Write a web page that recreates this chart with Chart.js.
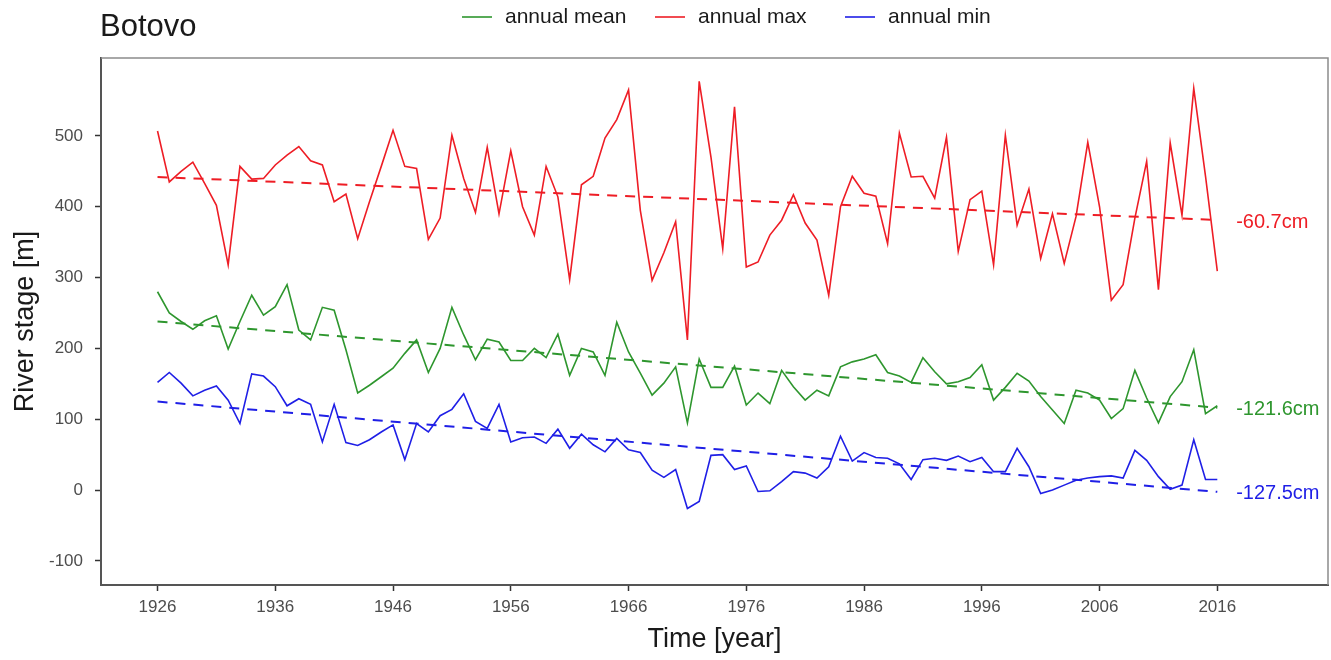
<!DOCTYPE html>
<html>
<head>
<meta charset="utf-8">
<title>Botovo – river stage</title>
<script src="https://cdn.jsdelivr.net/npm/chart.js@4.4.1/dist/chart.umd.min.js"></script>
<style>
  html, body { margin: 0; padding: 0; background: #ffffff; }
  #wrap { width: 1331px; height: 660px; }
</style>
</head>
<body>
<div id="wrap"><canvas id="stageChart" width="1331" height="660"></canvas></div>
<script>
// ═══════════════════════════════════════════════════════
// BOTOVO – annual river stage with linear trends
// ═══════════════════════════════════════════════════════

const years = [
  1926, 1927, 1928, 1929, 1930, 1931, 1932, 1933, 1934, 1935,
  1936, 1937, 1938, 1939, 1940, 1941, 1942, 1943, 1944, 1945,
  1946, 1947, 1948, 1949, 1950, 1951, 1952, 1953, 1954, 1955,
  1956, 1957, 1958, 1959, 1960, 1961, 1962, 1963, 1964, 1965,
  1966, 1967, 1968, 1969, 1970, 1971, 1972, 1973, 1974, 1975,
  1976, 1977, 1978, 1979, 1980, 1981, 1982, 1983, 1984, 1985,
  1986, 1987, 1988, 1989, 1990, 1991, 1992, 1993, 1994, 1995,
  1996, 1997, 1998, 1999, 2000, 2001, 2002, 2003, 2004, 2005,
  2006, 2007, 2008, 2009, 2010, 2011, 2012, 2013, 2014, 2015,
  2016
];

const annualMean = [
  280, 250, 238, 227, 239, 246, 199, 238, 275, 247,
  259, 290, 226, 212, 258, 254, 198, 137, 148, 160,
  172, 193, 212, 166, 200, 258, 219, 184, 213, 209,
  183, 183, 200, 187, 220, 162, 200, 195, 162, 237,
  195, 165, 134, 151, 174,  95, 185, 145, 145, 175,
  120, 137, 122, 169, 146, 127, 141, 133, 174, 181,
  185, 191, 166, 161, 152, 187, 167, 150, 153, 159,
  177, 127, 145, 165, 154, 132, 113,  94, 141, 137,
  127, 101, 115, 169, 130,  95, 132, 153, 198, 108,
  119
];

const annualMax = [
  507, 435, 450, 463, 433, 402, 318, 457, 439, 440,
  459, 473, 485, 465, 459, 407, 418, 355, 407, 457,
  508, 457, 454, 354, 384, 501, 440, 392, 484, 390,
  479, 400, 360, 457, 414, 297, 431, 443, 497, 523,
  565, 395, 296, 335, 379, 212, 577, 470, 341, 541,
  315, 322, 360, 381, 417, 377, 353, 275, 400, 443,
  419, 415, 348, 504, 442, 443, 412, 498, 337, 410,
  422, 318, 501, 374, 425, 327, 390, 320, 386, 491,
  400, 268, 290, 384, 464, 283, 490, 388, 567, 443,
  309
];

const annualMin = [
  152, 166, 151, 133, 141, 147, 127,  94, 164, 161,
  146, 119, 129, 121,  68, 121,  67,  63,  71,  82,
   92,  43,  94,  82, 105, 114, 136,  97,  87, 121,
   68,  74,  75,  66,  86,  59,  79,  64,  54,  73,
   57,  53,  28,  18,  29, -26, -16,  49,  50,  29,
   34,  -2,  -1,  12,  26,  24,  17,  33,  76,  41,
   53,  46,  45,  37,  15,  43,  45,  42,  48,  40,
   46,  26,  26,  59,  33,  -5,   0,   7,  14,  17,
   19,  20,  17,  56,  42,  19,   1,   7,  71,  15,
   15
];

// linear trend end points (first year, last year)
const trendYears = [1926, 2016];
const meanTrend = [238.0, 116.4];
const maxTrend = [442.0, 381.3];
const minTrend = [125.0, -2.5];

const trendLabels = { mean: '-121.6cm', max: '-60.7cm', min: '-127.5cm' };
const labelYear = 2017.6;

const xTicks = [1926, 1936, 1946, 1956, 1966, 1976, 1986, 1996, 2006, 2016];
const yTicks = [-100, 0, 100, 200, 300, 400, 500];

// ─────────────────────────────────────────────────────
// STYLE
// ─────────────────────────────────────────────────────
const FONT = "'Liberation Sans', Arial, sans-serif";
const GREEN = '#2e962e';
const RED = '#ee1d25';
const BLUE = '#1f1fe6';
const TICK_TEXT = '#4d4d4d';

const toPoints = (xs, vals) => vals.map((v, i) => ({ x: xs[i], y: v }));

function seriesLine(label, vals, color) {
  return {
    label: label,
    data: toPoints(years, vals),
    borderColor: color,
    backgroundColor: color,
    borderWidth: 1.6,
    pointRadius: 0,
    tension: 0,
    fill: false
  };
}

function trendLine(label, vals, color) {
  return {
    label: label,
    data: toPoints(trendYears, vals),
    borderColor: color,
    borderWidth: 2,
    borderDash: [10, 8],
    pointRadius: 0,
    tension: 0,
    fill: false
  };
}

// ─────────────────────────────────────────────────────
// TITLE, LEGEND, PANEL BOX, TREND LABELS
// ─────────────────────────────────────────────────────
const decorPlugin = {
  id: 'decor',
  afterDraw(chart) {
    const { ctx, chartArea: a, scales: { x, y } } = chart;
    ctx.save();

    // panel box (top and right sides)
    ctx.strokeStyle = '#8c8c8c';
    ctx.lineWidth = 1.5;
    ctx.beginPath();
    ctx.moveTo(a.left, a.top);
    ctx.lineTo(a.right, a.top);
    ctx.lineTo(a.right, a.bottom);
    ctx.stroke();

    // trend labels
    ctx.font = '20px ' + FONT;
    ctx.textAlign = 'left';
    ctx.textBaseline = 'middle';
    const lx = x.getPixelForValue(labelYear);
    ctx.fillStyle = RED;
    ctx.fillText(trendLabels.max, lx, y.getPixelForValue(maxTrend[1]) + 2);
    ctx.fillStyle = GREEN;
    ctx.fillText(trendLabels.mean, lx, y.getPixelForValue(meanTrend[1]) + 2);
    ctx.fillStyle = BLUE;
    ctx.fillText(trendLabels.min, lx, y.getPixelForValue(minTrend[1]) + 2);

    // plot title
    ctx.fillStyle = '#1a1a1a';
    ctx.font = '31px ' + FONT;
    ctx.textBaseline = 'alphabetic';
    ctx.fillText('Botovo', 100, 36);

    // legend (key start positions follow the reference layout)
    const items = [
      { text: 'annual mean', color: GREEN, at: 462 },
      { text: 'annual max', color: RED, at: 655 },
      { text: 'annual min', color: BLUE, at: 845 }
    ];
    ctx.font = '21px ' + FONT;
    ctx.textBaseline = 'middle';
    const ly = 17;
    items.forEach(it => {
      ctx.strokeStyle = it.color;
      ctx.lineWidth = 1.6;
      ctx.beginPath();
      ctx.moveTo(it.at, ly);
      ctx.lineTo(it.at + 30, ly);
      ctx.stroke();
      ctx.fillStyle = '#1a1a1a';
      ctx.fillText(it.text, it.at + 43, ly);
    });

    ctx.restore();
  }
};

// ─────────────────────────────────────────────────────
// CHART
// ─────────────────────────────────────────────────────
const ctx = document.getElementById('stageChart').getContext('2d');
new Chart(ctx, {
  type: 'line',
  data: {
    datasets: [
      seriesLine('annual mean', annualMean, GREEN),
      seriesLine('annual max', annualMax, RED),
      seriesLine('annual min', annualMin, BLUE),
      trendLine('mean trend', meanTrend, GREEN),
      trendLine('max trend', maxTrend, RED),
      trendLine('min trend', minTrend, BLUE)
    ]
  },
  options: {
    responsive: false,
    animation: false,
    layout: { padding: { top: 58, right: 3, left: 0, bottom: 0 } },
    scales: {
      x: {
        type: 'linear',
        min: 1921.2,
        max: 2025.4,
        afterBuildTicks: s => { s.ticks = xTicks.map(v => ({ value: v })); },
        afterFit: s => { s.height = 75; },
        ticks: {
          color: TICK_TEXT,
          font: { family: FONT, size: 17 },
          padding: 6,
          autoSkip: false,
          maxRotation: 0,
          callback: v => String(v)
        },
        grid: { display: true, drawOnChartArea: false, drawTicks: true, tickLength: 6, tickColor: '#333', tickWidth: 1.5 },
        border: { display: true, color: '#555', width: 2 },
        title: {
          display: true,
          text: 'Time [year]',
          color: '#1a1a1a',
          font: { family: FONT, size: 27 },
          padding: { top: 0, bottom: 4 }
        }
      },
      y: {
        min: -134,
        max: 610,
        afterBuildTicks: s => { s.ticks = yTicks.map(v => ({ value: v })); },
        afterFit: s => { s.width = 101; },
        ticks: {
          color: TICK_TEXT,
          font: { family: FONT, size: 17 },
          padding: 12,
          callback: v => String(v)
        },
        grid: { display: true, drawOnChartArea: false, drawTicks: true, tickLength: 6, tickColor: '#333', tickWidth: 1.5 },
        border: { display: true, color: '#555', width: 2 },
        title: {
          display: true,
          text: 'River stage [m]',
          color: '#1a1a1a',
          font: { family: FONT, size: 27 },
          padding: { top: 9, bottom: 0 }
        }
      }
    },
    plugins: {
      legend: { display: false },
      title: { display: false },
      tooltip: { enabled: false }
    }
  },
  plugins: [decorPlugin]
});
</script>
</body>
</html>
